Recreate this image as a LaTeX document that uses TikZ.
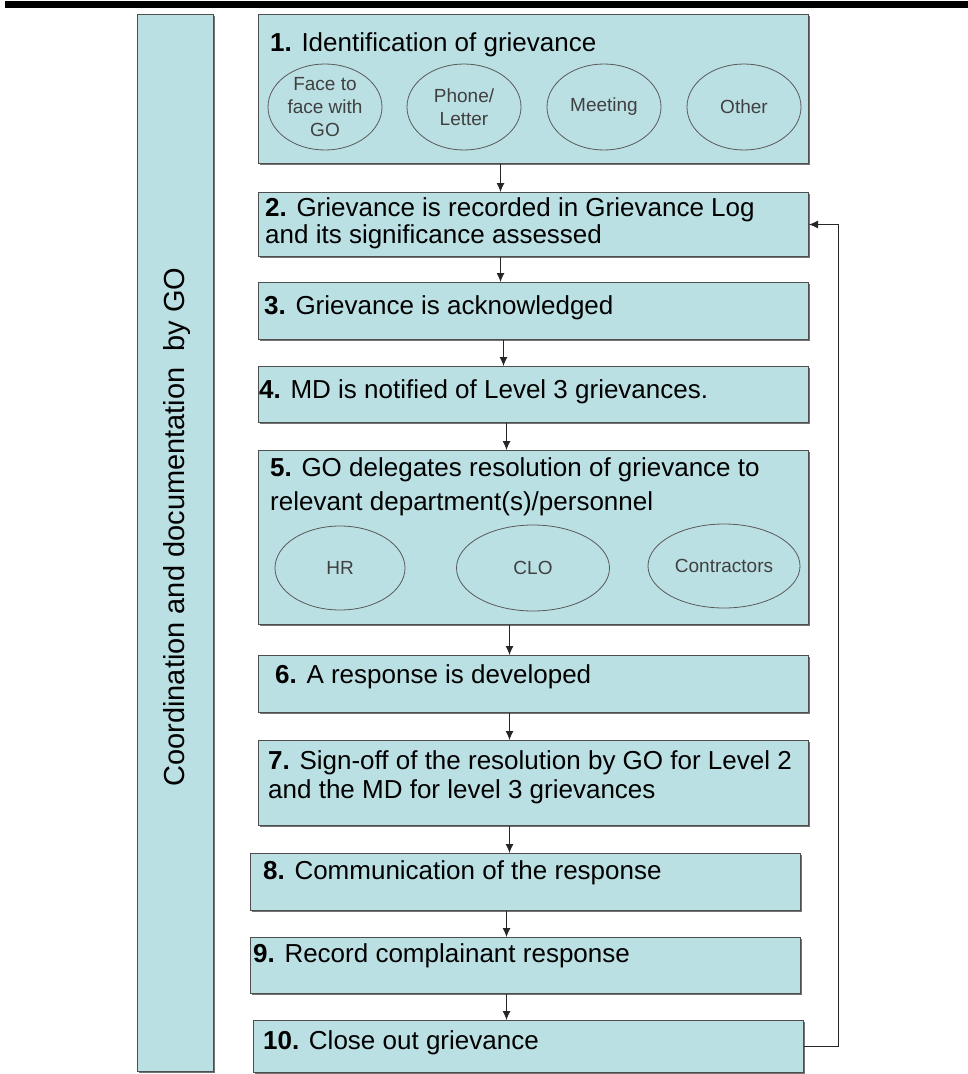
\documentclass[tikz,border=0pt]{standalone}
\usepackage{fontspec}
\setmainfont{Liberation Sans}
\usetikzlibrary{shapes.geometric,shadows,arrows.meta}

\definecolor{boxfill}{RGB}{187,224,227}
\definecolor{boxline}{RGB}{78,78,78}

\tikzset{
  stepbox/.style={draw=boxline, fill=boxfill, line width=1pt, anchor=north west, inner sep=0pt,
    drop shadow={shadow xshift=1.5pt, shadow yshift=-1.5pt, fill=black!55, opacity=1}},
  steptext/.style={anchor=north west, inner sep=0pt, align=left, font=\fontsize{26}{27}\selectfont},
  source/.style={ellipse, draw=black!65, line width=0.8pt, inner sep=0pt, align=center,
    text=black!75, font=\fontsize{19}{23}\selectfont},
  flow/.style={draw=black!85, line width=0.9pt, -{Latex[length=9pt,width=8pt]}},
}

\begin{document}
\begin{tikzpicture}[x=1pt,y=-1pt]
        \useasboundingbox (0,0) rectangle (968,1074);
        \fill (5,1) rectangle (968,8); % rule on top

        % side bar
        \node[stepbox, minimum width=76pt, minimum height=1057pt] (side) at (137,14) {};
        \node[rotate=90, font=\fontsize{29}{30}\selectfont] (sidetext) at (177,527) {Coordination and documentation\ \ by GO};

        % steps
        \node[stepbox, minimum width=550pt, minimum height=149pt] (s1) at (258,14) {};
        \node[stepbox, minimum width=550pt, minimum height=64pt] (s2) at (258,192) {};
        \node[stepbox, minimum width=550pt, minimum height=57pt] (s3) at (258,282) {};
        \node[stepbox, minimum width=550pt, minimum height=56pt] (s4) at (258,366) {};
        \node[stepbox, minimum width=550pt, minimum height=174pt] (s5) at (258,450) {};
        \node[stepbox, minimum width=550pt, minimum height=57pt] (s6) at (258,655) {};
        \node[stepbox, minimum width=550pt, minimum height=85pt] (s7) at (258,740) {};
        \node[stepbox, minimum width=550pt, minimum height=57pt] (s8) at (250,853) {};
        \node[stepbox, minimum width=550pt, minimum height=56pt] (s9) at (250,937) {};
        \node[stepbox, minimum width=550pt, minimum height=52pt] (s10) at (253,1020) {};

        \node[steptext] (t1) at ([shift={(12,18)}]s1.north west) {\textbf{1.} Identification of grievance};
        \node[steptext] (t2) at ([shift={(7,5)}]s2.north west) {\textbf{2.} Grievance is recorded in Grievance Log\\and its significance assessed};
        \node[steptext] (t3) at ([shift={(6,13)}]s3.north west) {\textbf{3.} Grievance is acknowledged};
        \node[steptext] (t4) at ([shift={(1,13)}]s4.north west) {\textbf{4.} MD is notified of Level 3 grievances.};
        \node[steptext, font=\fontsize{26}{34}\selectfont] (t5) at ([shift={(12,7)}]s5.north west) {\textbf{5.} GO delegates resolution of grievance to\\relevant department(s)/personnel};
        \node[steptext] (t6) at ([shift={(17,9)}]s6.north west) {\textbf{6.} A response is developed};
        \node[steptext, font=\fontsize{26}{29}\selectfont] (t7) at ([shift={(10,10)}]s7.north west) {\textbf{7.} Sign-off of the resolution by GO for Level 2\\and the MD for level 3 grievances};
        \node[steptext] (t8) at ([shift={(13,7)}]s8.north west) {\textbf{8.} Communication of the response};
        \node[steptext] (t9) at ([shift={(3,6)}]s9.north west) {\textbf{9.} Record complainant response};
        \node[steptext] (t10) at ([shift={(10,10)}]s10.north west) {\textbf{10.} Close out grievance};

        % ways a grievance comes in
        \node[source, minimum width=114pt, minimum height=86pt] (face) at (325,107) {Face to\\face with\\GO};
        \node[source, minimum width=114pt, minimum height=86pt] (phone) at (464,107) {Phone/\\Letter};
        \node[source, minimum width=114pt, minimum height=86pt] (meeting) at (604,107) {Meeting};
        \node[source, minimum width=114pt, minimum height=86pt] (other) at (744,107) {Other};

        % who resolves it
        \node[source, minimum width=130pt, minimum height=84pt] (hr) at (340,568) {HR};
        \node[source, minimum width=153pt, minimum height=86pt] (clo) at (533,568) {CLO};
        \node[source, minimum width=152pt, minimum height=84pt] (contr) at (724,566) {Contractors};

        % flow
        \draw[flow] ([xshift=-33pt]s1.south) -- ([xshift=-33pt]s1.south |- s2.north);
        \draw[flow] ([xshift=-33pt]s2.south) -- ([xshift=-33pt]s2.south |- s3.north);
        \draw[flow] ([xshift=-30pt]s3.south) -- ([xshift=-30pt]s3.south |- s4.north);
        \draw[flow] ([xshift=-27pt]s4.south) -- ([xshift=-27pt]s4.south |- s5.north);
        \draw[flow] ([xshift=-24pt]s5.south) -- ([xshift=-24pt]s5.south |- s6.north);
        \draw[flow] ([xshift=-24pt]s6.south) -- ([xshift=-24pt]s6.south |- s7.north);
        \draw[flow] ([xshift=-24pt]s7.south) -- ([xshift=-24pt]s7.south |- s8.north);
        \draw[flow] ([xshift=-19pt]s8.south) -- ([xshift=-19pt]s8.south |- s9.north);
        \draw[flow] ([xshift=-19pt]s9.south) -- ([xshift=-19pt]s9.south |- s10.north);
        \draw[flow] (s10.east) -- ++(34,0) |- (s2.east); % back to the log
    \end{tikzpicture}
\end{document}
